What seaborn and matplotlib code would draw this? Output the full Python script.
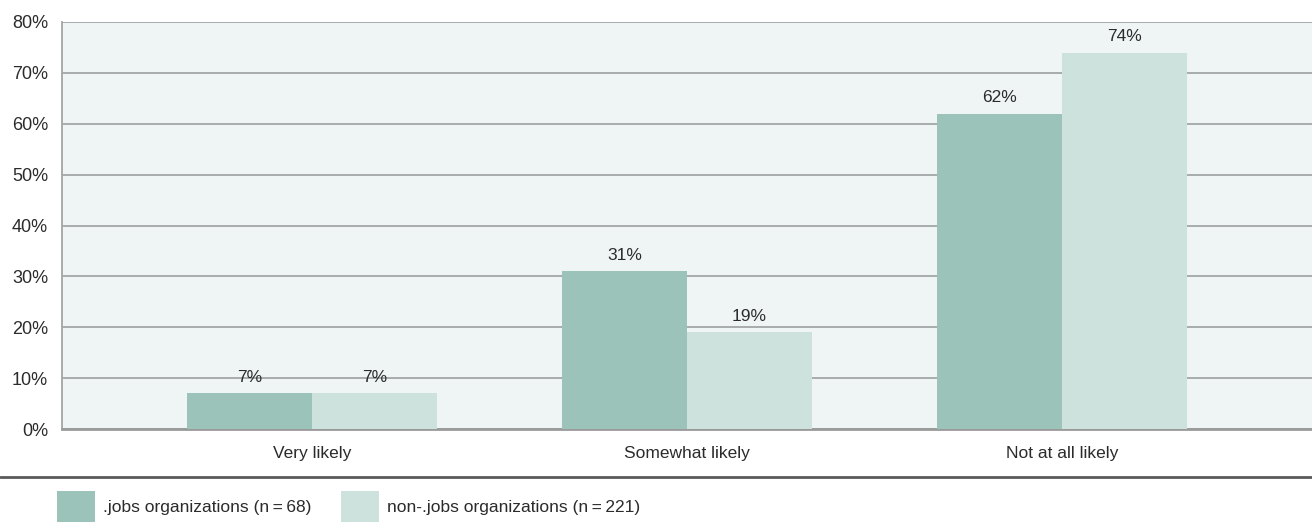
import matplotlib
matplotlib.use("Agg")
import matplotlib.pyplot as plt
import matplotlib.lines as mlines
import seaborn as sns
import pandas as pd

categories = ["Very likely", "Somewhat likely", "Not at all likely"]
series_names = [".jobs organizations (n\u2009=\u200968)", "non-.jobs organizations (n\u2009=\u2009221)"]
jobs_values = [7, 31, 62]
nonjobs_values = [7, 19, 74]
y_ticks = [0, 10, 20, 30, 40, 50, 60, 70, 80]

colors = ["#9bc3ba", "#cde2dd"]
text_color = "#2b2b2b"
grid_color = "#a3a6a6"

df = pd.DataFrame({
    "category": categories * 2,
    "group": [series_names[0]] * 3 + [series_names[1]] * 3,
    "value": jobs_values + nonjobs_values,
})

sns.set_theme(style="white")
plt.rcParams["font.family"] = ["Liberation Sans", "DejaVu Sans"]

fig = plt.figure(figsize=(13.12, 5.23), dpi=100)
ax = fig.add_axes([62 / 1312, 1 - 429 / 523, 1 - 62 / 1312, (429 - 22) / 523])
ax.set_facecolor("#eff5f5")

sns.barplot(data=df, x="category", y="value", hue="group", order=categories,
            hue_order=series_names, palette=colors, width=0.667, gap=0,
            saturation=1, ax=ax, zorder=3, linewidth=0)

ax.set_ylim(0, 80)
ax.set_xlim(-0.667, 2.667)
ax.set_yticks(y_ticks)
ax.set_yticklabels([f"{t}%" for t in y_ticks], fontsize=13, color=text_color)
ax.tick_params(axis="x", labelsize=12.5, colors=text_color, length=0, pad=12)
ax.tick_params(axis="y", length=0, pad=10)
for lab in ax.get_xticklabels():
    lab.set_color(text_color)
ax.set_xlabel("")
ax.set_ylabel("")
ax.yaxis.grid(True, color=grid_color, linewidth=1.3, zorder=1)
ax.set_axisbelow(True)

for side in ["top", "right"]:
    ax.spines[side].set_visible(False)
ax.spines["left"].set_color(grid_color)
ax.spines["left"].set_linewidth(1.3)
ax.spines["bottom"].set_color("#9a9a9a")
ax.spines["bottom"].set_linewidth(2)

for container in ax.containers:
    ax.bar_label(container, labels=[f"{v:.0f}%" for v in container.datavalues],
                 padding=6, fontsize=12.5, color=text_color, zorder=4)

# separator line above the legend
fig.add_artist(mlines.Line2D([0, 1], [1 - 477 / 523] * 2, transform=fig.transFigure,
                             color="#5a5a5a", linewidth=2))

sns.move_legend(ax, loc="lower left", bbox_to_anchor=(50 / 1312, -0.012),
                bbox_transform=fig.transFigure, ncol=2, frameon=False, title=None,
                fontsize=12.5, handlelength=2.2, handleheight=2.4,
                handletextpad=0.45, columnspacing=1.7, borderaxespad=0,
                labelcolor=text_color)

fig.savefig("out.png", dpi=100)
